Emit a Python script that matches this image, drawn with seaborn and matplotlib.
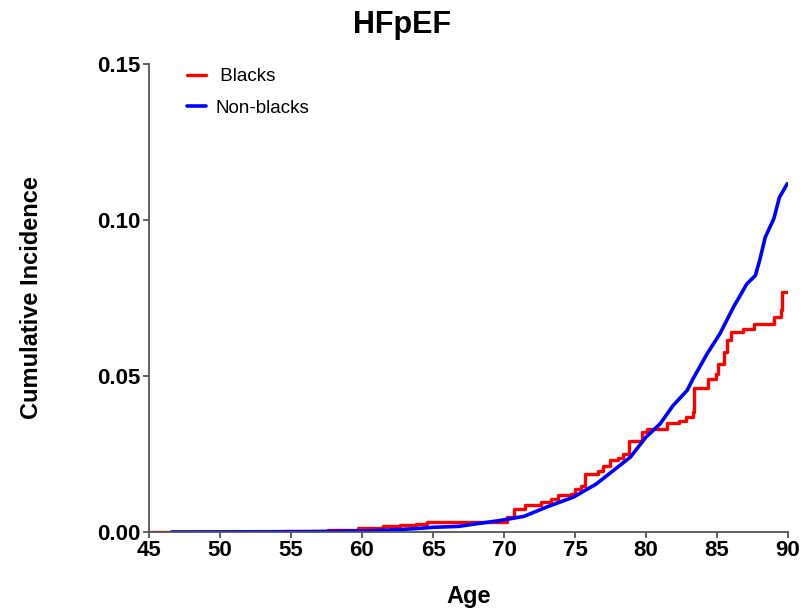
import matplotlib
matplotlib.use("Agg")
import matplotlib.pyplot as plt
import seaborn as sns
import pandas as pd

# Blacks (step curve)
black_age = [45.0, 54.4, 57.6, 59.7, 61.5, 62.7, 63.8, 64.6, 70.2, 70.7, 71.5, 72.6,
             73.3, 73.8, 74.7, 75.0, 75.4, 75.7, 76.6, 77.0, 77.5, 78.0, 78.4, 78.8,
             79.7, 80.1, 81.5, 82.3, 82.8, 83.3, 83.4, 84.4, 84.9, 85.1, 85.5, 85.7,
             86.0, 86.8, 87.6, 89.0, 89.5, 89.6, 89.95]
black_inc = [0.0, 0.0003, 0.0008, 0.0013, 0.0018, 0.0023, 0.0026, 0.0032, 0.0047, 0.0074,
             0.0085, 0.0095, 0.0106, 0.0117, 0.0122, 0.0138, 0.0146, 0.0187, 0.0197, 0.0210,
             0.0231, 0.0238, 0.0250, 0.0291, 0.0320, 0.0331, 0.0350, 0.0357, 0.0368, 0.0384,
             0.0462, 0.0490, 0.0508, 0.0540, 0.0576, 0.0614, 0.0640, 0.0651, 0.0667, 0.0688,
             0.0710, 0.0769, 0.0769]

# Non-blacks
nonblack_age = [46.6, 56.0, 58.0, 60.6, 62.7, 63.8, 65.0, 66.8, 68.0, 69.6, 71.4, 73.0,
                74.9, 76.5, 77.7, 78.9, 80.0, 81.0, 81.9, 82.9, 83.3, 84.3, 85.2, 86.15,
                87.1, 87.7, 88.0, 88.4, 89.0, 89.4, 89.95]
nonblack_inc = [0.0, 0.0001, 0.0002, 0.0004, 0.0008, 0.0011, 0.0015, 0.0018, 0.0026, 0.0036,
                0.0050, 0.0080, 0.0112, 0.0154, 0.0197, 0.0240, 0.0304, 0.0347, 0.0405,
                0.0454, 0.0490, 0.0571, 0.0635, 0.0720, 0.0795, 0.0822, 0.0870, 0.0945,
                0.1004, 0.1073, 0.1116]

x_ticks = [45, 50, 55, 60, 65, 70, 75, 80, 85, 90]
y_ticks = [0.00, 0.05, 0.10, 0.15]
labels = [" Blacks", "Non-blacks"]

sns.set_theme(style="ticks")
plt.rcParams['font.family'] = ['Liberation Sans', 'DejaVu Sans']
plt.rcParams['text.color'] = 'black'
plt.rcParams['axes.labelcolor'] = 'black'

fig = plt.figure(figsize=(8.04, 6.14), dpi=100)
ax = fig.add_axes([149/804, (614-532)/614, 639/804, 468/614])

df_b = pd.DataFrame({"Age": black_age, "Inc": black_inc, "grp": labels[0]})
df_n = pd.DataFrame({"Age": nonblack_age, "Inc": nonblack_inc, "grp": labels[1]})

sns.lineplot(data=df_b, x="Age", y="Inc", color="#ff0000", lw=2.4, ax=ax,
             drawstyle="steps-post", estimator=None, label=labels[0])
sns.lineplot(data=df_n, x="Age", y="Inc", color="#0000ff", lw=2.6, ax=ax,
             estimator=None, label=labels[1])

ax.set_xlim(45, 90)
ax.set_ylim(0, 0.15)
ax.set_xticks(x_ticks)
ax.set_yticks(y_ticks)
ax.set_xticklabels([str(t) for t in x_ticks], fontsize=16, fontweight="bold")
ax.set_yticklabels([f"{t:.2f}" for t in y_ticks], fontsize=16, fontweight="bold")
for s in ["top", "right"]:
    ax.spines[s].set_visible(False)
for s in ["left", "bottom"]:
    ax.spines[s].set_color("#555555")
    ax.spines[s].set_linewidth(1.3)
ax.tick_params(axis="both", colors="#555555", labelcolor="black", length=4, width=1.3, pad=2)

ax.set_xlabel("Age", fontsize=17, fontweight="bold", labelpad=17)
ax.set_ylabel("Cumulative Incidence", fontsize=17, fontweight="bold", labelpad=39)
fig.suptitle("HFpEF", fontsize=22, fontweight="bold", y=0.983)

leg = ax.legend(loc="upper left", bbox_to_anchor=(0.033, 1.027), frameon=False,
                fontsize=13.5, handlelength=1.0, handletextpad=0.5, labelspacing=0.75)

fig.savefig("out.png", dpi=100)
